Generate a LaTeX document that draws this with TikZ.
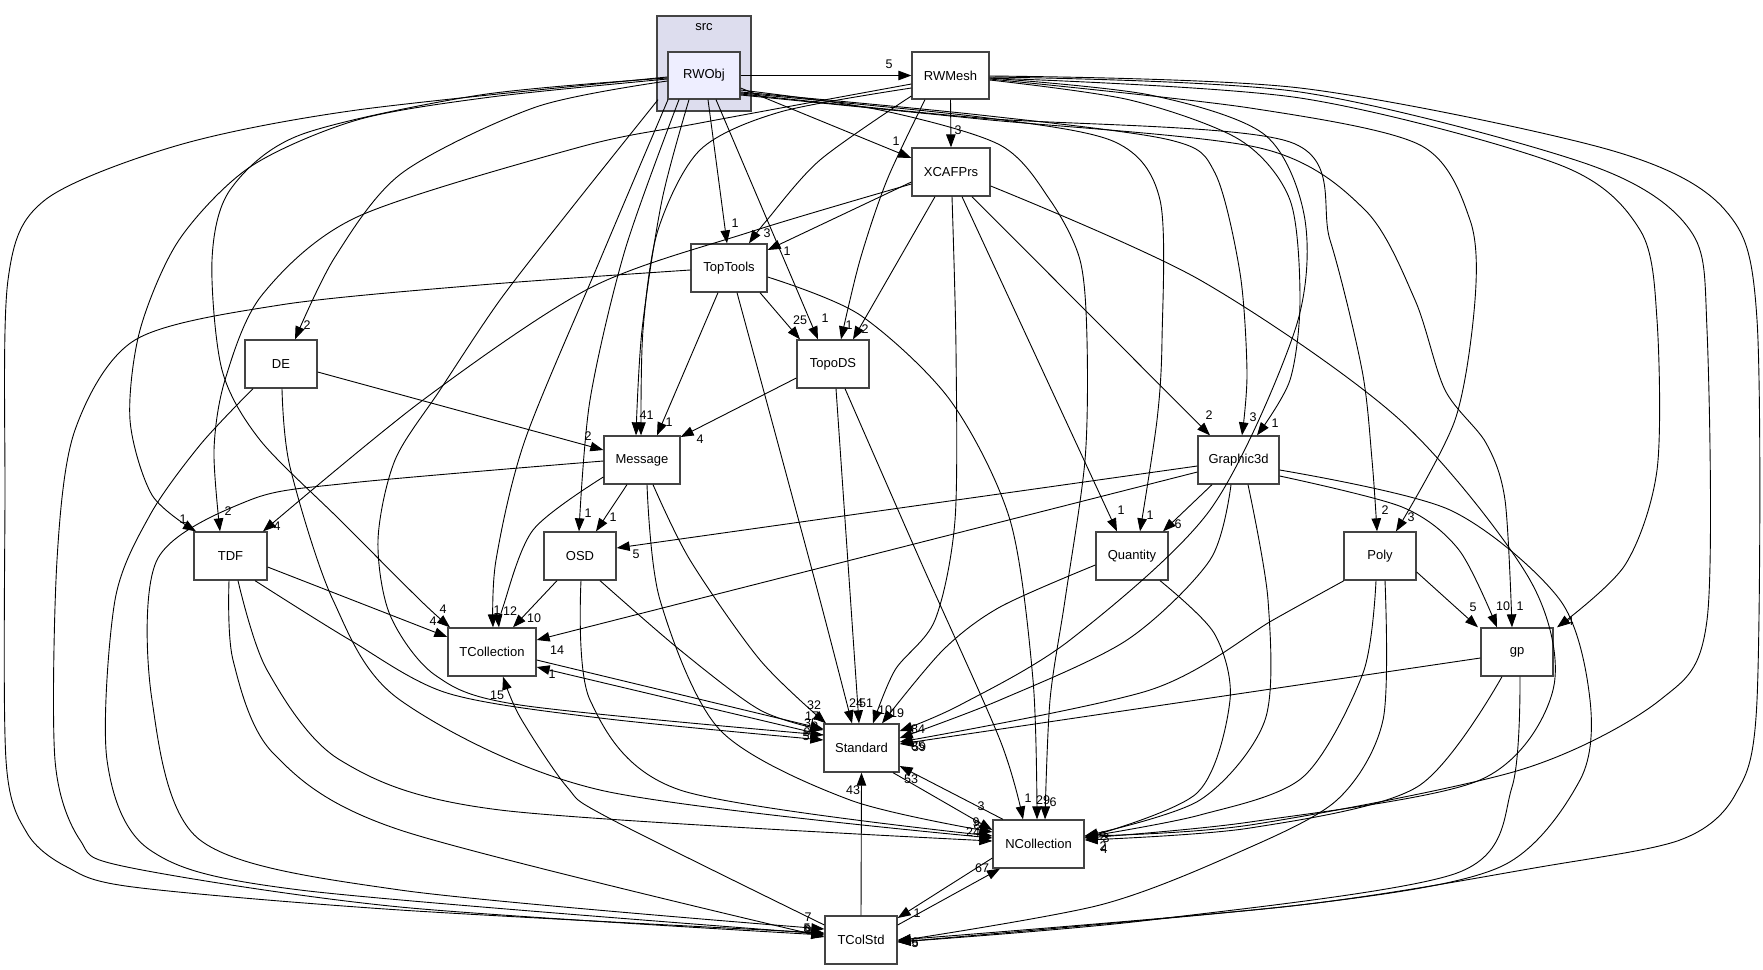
\documentclass[tikz,border=0pt]{standalone}
\usepackage{fontspec}
\setmainfont{Liberation Sans}
\usetikzlibrary{arrows.meta}
\definecolor{clfill}{HTML}{DDDDEE}
\definecolor{curfill}{HTML}{EEEEFF}
\definecolor{bord}{HTML}{444444}
\begin{document}
\begin{tikzpicture}[x=1pt,y=-1pt,
  box/.style={draw=bord, line width=1.3pt, fill=white, minimum width=#1, minimum height=48pt, inner sep=0pt, font=\fontsize{13}{15}\selectfont},
  e/.style={line width=0.9pt, -{Triangle[length=13pt,width=9.5pt]}},
  lbl/.style={font=\fontsize{12.5}{13}\selectfont, inner sep=0pt}]
\useasboundingbox (0,0) rectangle (1763,969);
% cluster
\node[draw=bord, line width=1.3pt, fill=clfill, minimum width=94pt, minimum height=95pt, inner sep=0pt] (src) at (704,63.5) {};
\node[font=\fontsize{13}{15}\selectfont, inner sep=0pt] (srclbl) at (704,27) {src};
% nodes
\node[box=72pt, minimum height=47pt, fill=curfill] (RWObj) at (704,75.5) {RWObj};
\node[box=77pt, minimum height=47pt] (RWMesh) at (950.5,75.5) {RWMesh};
\node[box=78pt] (XCAFPrs) at (951,172) {XCAFPrs};
\node[box=76pt] (TopTools) at (729,268) {TopTools};
\node[box=72pt] (TopoDS) at (833,364) {TopoDS};
\node[box=72pt] (DE) at (281,364) {DE};
\node[box=76pt] (Message) at (642,460) {Message};
\node[box=73pt] (TDF) at (230.5,556) {TDF};
\node[box=72pt] (OSD) at (580,556) {OSD};
\node[box=81pt] (Graphic3d) at (1238.5,460) {Graphic3d};
\node[box=72pt] (Quantity) at (1132,556) {Quantity};
\node[box=72pt] (Poly) at (1380,556) {Poly};
\node[box=72pt] (gp) at (1517,652) {gp};
\node[box=88pt] (TCollection) at (492,652) {TCollection};
\node[box=75pt] (Standard) at (861.5,748) {Standard};
\node[box=91pt] (NCollection) at (1038.5,844) {NCollection};
\node[box=72pt] (TColStd) at (861,940) {TColStd};
% ---- RWObj
\draw[e] (RWObj.east) -- (RWMesh.west);
\draw[e] (RWObj.east |- 0,88) -- (XCAFPrs.west |- 0,158);
\draw[e] (708,0 |- RWObj.south) -- (727,0 |- TopTools.north);
\draw[e] (716,0 |- RWObj.south) -- (818,0 |- TopoDS.north);
\draw[e] plot[smooth] coordinates {(689,0 |- RWObj.south) (662,200) (642,330) (636,0 |- Message.north)};
\draw[e] plot[smooth] coordinates {(679,0 |- RWObj.south) (625,250) (590,400) (579,0 |- OSD.north)};
\draw[e] plot[smooth] coordinates {(668,0 |- RWObj.south) (600,260) (525,440) (496,560) (493,0 |- TCollection.north)};
\draw[e] plot[smooth] coordinates {(658,0 |- RWObj.south) (570,210) (500,300) (440,390) (395,460) (378,540) (390,615) (435,675) (520,705) (Standard.west |- 0,735)};
\draw[e] plot[smooth] coordinates {(RWObj.west |- 0,81) (536,107) (402,173) (335,257) (295,0 |- DE.north)};
\draw[e] plot[smooth] coordinates {(RWObj.west |- 0,79) (491,97) (357,120) (250,167) (179,240) (140,330) (130,420) (152,495) (196,0 |- TDF.north)};
\draw[e] plot[smooth] coordinates {(RWObj.west |- 0,78) (480,95) (300,135) (230,190) (212,260) (222,370) (260,440) (340,520) (420,600) (450,0 |- TCollection.north)};
\draw[e] plot[smooth] coordinates {(RWObj.west |- 0,77) (357,110) (179,145) (45,200) (8,280) (5,500) (6,760) (27,833) (67,867) (133,887) (400,910) (TColStd.west |- 0,933)};
\draw[e] plot[smooth] coordinates {(RWObj.east |- 0,90) (880,110) (1000,145) (1050,200) (1080,260) (1087,340) (1085,460) (1065,600) (1050,700) (1045,0 |- NCollection.north)};
\draw[e] plot[smooth] coordinates {(RWObj.east |- 0,92) (980,115) (1170,140) (1215,173) (1240,273) (1247,373) (1242,0 |- Graphic3d.north)};
\draw[e] plot[smooth] coordinates {(RWObj.east |- 0,93) (980,117) (1115,142) (1160,200) (1162,340) (1157,420) (1140,0 |- Quantity.north)};
\draw[e] plot[smooth] coordinates {(RWObj.east |- 0,94) (980,118) (1290,142) (1330,240) (1362,370) (1372,460) (1377,0 |- Poly.north)};
\draw[e] plot[smooth] coordinates {(RWObj.east |- 0,95) (980,119) (1260,148) (1365,210) (1415,300) (1445,390) (1486,443) (1505,500) (1512,0 |- gp.north)};
% ---- RWMesh
\draw[e] (RWMesh.south) -- (XCAFPrs.north);
\draw[e] plot[smooth] coordinates {(RWMesh.west |- 0,96) (820,160) (767,220) (749,0 |- TopTools.north)};
\draw[e] plot[smooth] coordinates {(925,0 |- RWMesh.south) (887,180) (860,260) (841,0 |- TopoDS.north)};
\draw[e] plot[smooth] coordinates {(RWMesh.west |- 0,88) (780,112) (700,150) (658,230) (643,330) (641,0 |- Message.north)};
\draw[e] plot[smooth] coordinates {(RWMesh.west |- 0,84) (700,123) (580,147) (357,217) (262,295) (225,380) (214,450) (220,0 |- TDF.north)};
\draw[e] plot[smooth] coordinates {(RWMesh.east |- 0,78) (1150,95) (1265,135) (1305,220) (1295,330) (1210,510) (1070,640) (960,705) (Standard.east |- 0,731)};
\draw[e] plot[smooth] coordinates {(RWMesh.east |- 0,80) (1130,100) (1240,140) (1290,200) (1300,300) (1290,380) (1257,0 |- Graphic3d.north)};
\draw[e] plot[smooth] coordinates {(RWMesh.east |- 0,79) (1250,108) (1420,145) (1470,220) (1475,300) (1455,420) (1396,0 |- Poly.north)};
\draw[e] plot[smooth] coordinates {(RWMesh.east |- 0,78) (1300,98) (1560,165) (1640,230) (1657,320) (1657,470) (1625,565) (1557,0 |- gp.north)};
\draw[e] plot[smooth] coordinates {(RWMesh.east |- 0,77) (1300,92) (1590,165) (1690,230) (1707,330) (1707,620) (1660,700) (1520,770) (1250,825) (NCollection.east |- 0,836)};
\draw[e] plot[smooth] coordinates {(RWMesh.east |- 0,76) (1300,88) (1610,150) (1725,210) (1757,320) (1757,700) (1735,795) (1680,840) (1540,867) (1300,905) (TColStd.east |- 0,942)};
% ---- XCAFPrs
\draw[e] (XCAFPrs.west |- 0,182) -- (TopTools.east |- 0,250);
\draw[e] (935,0 |- XCAFPrs.south) -- (853,0 |- TopoDS.north);
\draw[e] plot[smooth] coordinates {(XCAFPrs.west |- 0,184) (750,232) (590,288) (423,400) (263,0 |- TDF.north)};
\draw[e] plot[smooth] coordinates {(952,0 |- XCAFPrs.south) (956,350) (955,520) (935,620) (895,670) (873,0 |- Standard.north)};
\draw[e] (962,0 |- XCAFPrs.south) -- (1117,0 |- Quantity.north);
\draw[e] (972,0 |- XCAFPrs.south) -- (1210,0 |- Graphic3d.north);
\draw[e] plot[smooth] coordinates {(XCAFPrs.east |- 0,186) (1200,280) (1400,420) (1530,580) (1553,690) (1480,780) (1250,822) (NCollection.east |- 0,838)};
% ---- TopTools
\draw[e] (760,0 |- TopTools.south) -- (800,0 |- TopoDS.north);
\draw[e] (718,0 |- TopTools.south) -- (657,0 |- Message.north);
\draw[e] plot[smooth] coordinates {(737,0 |- TopTools.south) (777,440) (820,600) (852,0 |- Standard.north)};
\draw[e] plot[smooth] coordinates {(TopTools.east |- 0,277) (860,315) (950,400) (1010,520) (1033,680) (1037,0 |- NCollection.north)};
\draw[e] plot[smooth] coordinates {(TopTools.west |- 0,270) (480,285) (280,305) (135,340) (75,430) (57,560) (55,760) (80,840) (127,867) (400,907) (TColStd.west |- 0,935)};
% ---- TopoDS
\draw[e] (TopoDS.west |- 0,378) -- (Message.east |- 0,437);
\draw[e] (836,0 |- TopoDS.south) -- (859,0 |- Standard.north);
\draw[e] plot[smooth] coordinates {(845,0 |- TopoDS.south) (920,560) (1000,740) (1023,0 |- NCollection.north)};
% ---- DE
\draw[e] (DE.east |- 0,372) -- (Message.west |- 0,450);
\draw[e] plot[smooth] coordinates {(253,0 |- DE.south) (200,445) (150,515) (115,600) (107,760) (150,850) (300,890) (TColStd.west |- 0,934)};
\draw[e] plot[smooth] coordinates {(282,0 |- DE.south) (290,467) (333,600) (400,700) (600,790) (NCollection.west |- 0,838)};
% ---- Message
\draw[e] (627,0 |- Message.south) -- (596,0 |- OSD.north);
\draw[e] plot[smooth] coordinates {(Message.west |- 0,477) (533,530) (503,607) (499,0 |- TCollection.north)};
\draw[e] plot[smooth] coordinates {(653,0 |- Message.south) (690,560) (760,660) (826,0 |- Standard.north)};
\draw[e] plot[smooth] coordinates {(647,0 |- Message.south) (660,600) (720,730) (850,800) (NCollection.west |- 0,832)};
\draw[e] plot[smooth] coordinates {(Message.west |- 0,461) (350,483) (250,500) (157,560) (152,700) (200,840) (400,890) (TColStd.west |- 0,929)};
% ---- TDF
\draw[e] (TDF.east |- 0,567) -- (TCollection.west |- 0,637);
\draw[e] plot[smooth] coordinates {(255,0 |- TDF.south) (350,640) (447,693) (600,718) (Standard.west |- 0,740)};
\draw[e] plot[smooth] coordinates {(238,0 |- TDF.south) (267,670) (340,760) (500,810) (NCollection.west |- 0,841)};
\draw[e] plot[smooth] coordinates {(229,0 |- TDF.south) (233,660) (273,753) (400,830) (TColStd.west |- 0,937)};
% ---- OSD
\draw[e] (557,0 |- OSD.south) -- (513,0 |- TCollection.north);
\draw[e] plot[smooth] coordinates {(600,0 |- OSD.south) (680,650) (760,710) (Standard.west |- 0,730)};
\draw[e] plot[smooth] coordinates {(581,0 |- OSD.south) (590,700) (680,790) (NCollection.west |- 0,836)};
% ---- Graphic3d
\draw[e] (1212,0 |- Graphic3d.south) -- (1163,0 |- Quantity.north);
\draw[e] (Graphic3d.west |- 0,466) -- (OSD.east |- 0,548);
\draw[e] (Graphic3d.west |- 0,472) -- (TCollection.east |- 0,640);
\draw[e] plot[smooth] coordinates {(1231,0 |- Graphic3d.south) (1210,560) (1127,640) (1000,700) (Standard.east |- 0,738)};
\draw[e] plot[smooth] coordinates {(1248,0 |- Graphic3d.south) (1268,600) (1265,720) (1200,800) (NCollection.east |- 0,836)};
\draw[e] plot[smooth] coordinates {(Graphic3d.east |- 0,476) (1402,507) (1459,550) (1497,0 |- gp.north)};
\draw[e] plot[smooth] coordinates {(Graphic3d.east |- 0,470) (1450,510) (1560,600) (1590,700) (1580,780) (1500,867) (1300,905) (TColStd.east |- 0,940)};
% ---- Quantity
\draw[e] plot[smooth] coordinates {(Quantity.west |- 0,565) (1000,607) (943,650) (882,0 |- Standard.north)};
\draw[e] plot[smooth] coordinates {(1160,0 |- Quantity.south) (1214,633) (1230,700) (1197,793) (NCollection.east |- 0,838)};
% ---- Poly
\draw[e] (Poly.east |- 0,572) -- (1478,0 |- gp.north);
\draw[e] plot[smooth] coordinates {(1344,0 |- Poly.south) (1273,620) (1150,690) (Standard.east |- 0,742)};
\draw[e] plot[smooth] coordinates {(1376,0 |- Poly.south) (1363,673) (1303,777) (1200,815) (NCollection.east |- 0,837)};
\draw[e] plot[smooth] coordinates {(1385,0 |- Poly.south) (1383,720) (1337,800) (1237,853) (1100,905) (TColStd.east |- 0,941)};
% ---- gp
\draw[e] (gp.west |- 0,658) -- (Standard.east |- 0,744);
\draw[e] plot[smooth] coordinates {(1502,0 |- gp.south) (1417,787) (1250,828) (NCollection.east |- 0,840)};
\draw[e] plot[smooth] coordinates {(1520,0 |- gp.south) (1512,787) (1457,873) (1150,920) (TColStd.east |- 0,942)};
% ---- TCollection / Standard / NCollection / TColStd
\draw[e] (TCollection.east |- 0,660) -- (Standard.west |- 0,729);
\draw[e] (Standard.west |- 0,735) -- (TCollection.east |- 0,667);
\draw[e] (893,0 |- Standard.south) -- (NCollection.west |- 0,830);
\draw[e] (1003,0 |- NCollection.north) -- (Standard.east |- 0,766);
\draw[e] (NCollection.west |- 0,858) -- (TColStd.east |- 0,918);
\draw[e] (TColStd.east |- 0,925) -- (1000,0 |- NCollection.south);
\draw[e] (TColStd.north) -- (Standard.south);
\draw[e] plot[smooth] coordinates {(TColStd.west |- 0,925) (607,817) (567,787) (520,717) (503,0 |- TCollection.south)};
% ---- labels
\node[lbl] (l1) at (889,64) {5};
\node[lbl] (l2) at (896,141) {1};
\node[lbl] (l3) at (735,223) {1};
\node[lbl] (l4) at (825,318) {1};
\node[lbl] (l5) at (643,415) {4};
\node[lbl] (l6) at (650,415) {1};
\node[lbl] (l7) at (588,513) {1};
\node[lbl] (l8) at (497,610) {1};
\node[lbl] (l9) at (510,611) {12};
\node[lbl] (l10) at (307,325) {2};
\node[lbl] (l11) at (183,519) {1};
\node[lbl] (l12) at (443,609) {4};
\node[lbl] (l13) at (433,621) {4};
\node[lbl] (l14) at (958,130) {3};
\node[lbl] (l15) at (767,233) {3};
\node[lbl] (l16) at (787,251) {1};
\node[lbl] (l17) at (800,320) {25};
\node[lbl] (l18) at (849,325) {1};
\node[lbl] (l19) at (865,329) {2};
\node[lbl] (l20) at (669,422) {1};
\node[lbl] (l21) at (700,439) {4};
\node[lbl] (l22) at (588,436) {2};
\node[lbl] (l23) at (228,511) {2};
\node[lbl] (l24) at (277,526) {4};
\node[lbl] (l25) at (613,517) {1};
\node[lbl] (l26) at (636,554) {5};
\node[lbl] (l27) at (534,618) {10};
\node[lbl] (l28) at (557,650) {14};
\node[lbl] (l29) at (552,674) {1};
\node[lbl] (l30) at (497,695) {15};
\node[lbl] (l31) at (1209,415) {2};
\node[lbl] (l32) at (1253,417) {3};
\node[lbl] (l33) at (1275,423) {1};
\node[lbl] (l34) at (1121,510) {1};
\node[lbl] (l35) at (1150,515) {1};
\node[lbl] (l36) at (1178,524) {6};
\node[lbl] (l37) at (1385,510) {2};
\node[lbl] (l38) at (1411,517) {3};
\node[lbl] (l39) at (1473,607) {5};
\node[lbl] (l40) at (1503,606) {10};
\node[lbl] (l41) at (1520,606) {1};
\node[lbl] (l42) at (1570,621) {4};
\node[lbl] (l43) at (814,705) {32};
\node[lbl] (l44) at (856,703) {24};
\node[lbl] (l45) at (866,703) {51};
\node[lbl] (l46) at (885,710) {10};
\node[lbl] (l47) at (897,713) {19};
\node[lbl] (l48) at (812,716) {17};
\node[lbl] (l49) at (811,723) {35};
\node[lbl] (l50) at (807,732) {9};
\node[lbl] (l51) at (806,736) {5};
\node[lbl] (l52) at (918,729) {84};
\node[lbl] (l53) at (918,746) {85};
\node[lbl] (l54) at (919,747) {59};
\node[lbl] (l55) at (911,779) {53};
\node[lbl] (l56) at (853,790) {43};
\node[lbl] (l57) at (1028,798) {1};
\node[lbl] (l58) at (1043,800) {29};
\node[lbl] (l59) at (1053,802) {6};
\node[lbl] (l60) at (981,806) {3};
\node[lbl] (l61) at (976,822) {9};
\node[lbl] (l62) at (977,825) {8};
\node[lbl] (l63) at (973,832) {24};
\node[lbl] (l64) at (1103,836) {2};
\node[lbl] (l65) at (1106,838) {3};
\node[lbl] (l66) at (1103,846) {2};
\node[lbl] (l67) at (1104,849) {4};
\node[lbl] (l68) at (917,913) {1};
\node[lbl] (l69) at (982,868) {67};
\node[lbl] (l70) at (808,917) {7};
\node[lbl] (l71) at (807,928) {5};
\node[lbl] (l72) at (807,929) {6};
\node[lbl] (l73) at (808,930) {9};
\node[lbl] (l74) at (915,942) {6};
\node[lbl] (l75) at (915,943) {5};
\end{tikzpicture}
\end{document}
